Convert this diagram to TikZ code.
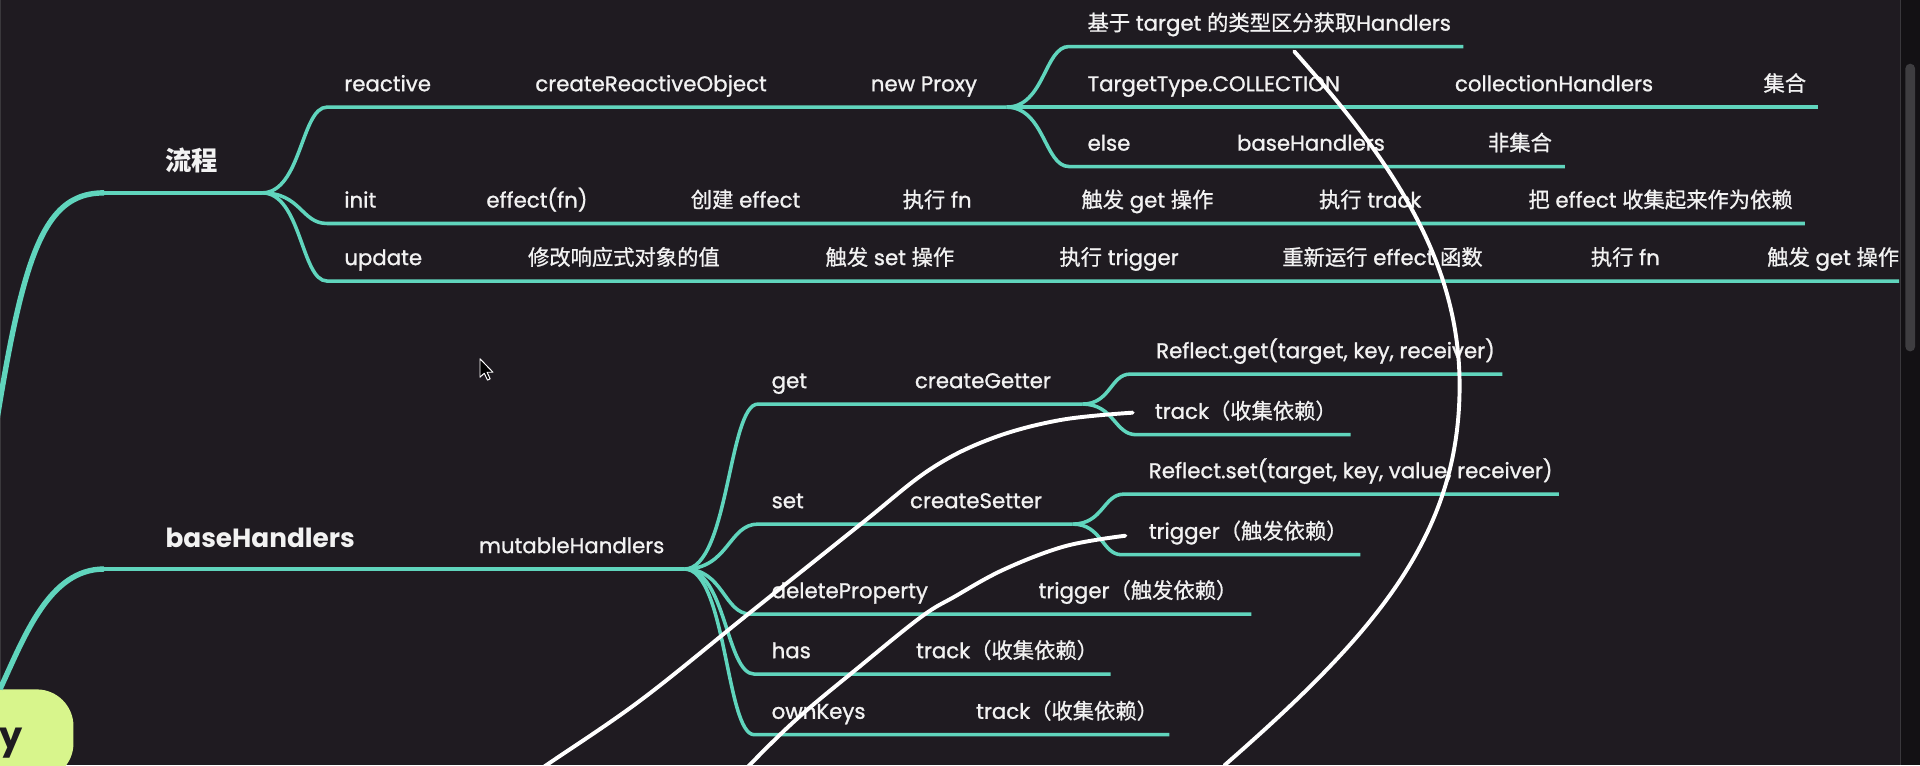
\documentclass[tikz,border=0pt]{standalone}
\usepackage{fontspec}
\setmainfont{Poppins}
\newfontfamily\medfont{Poppins}[FakeBold=1.1]
\newfontfamily\cjkfont{Noto Sans CJK SC}[FakeBold=0.9]
\newfontfamily\cjkbold{Noto Sans CJK SC Bold}
\newcommand\zh[1]{{\cjkfont #1}}
\newcommand\zhb[1]{{\cjkbold #1}}
\usetikzlibrary{calc}
\definecolor{bgc}{HTML}{1F1B21}
\definecolor{tealc}{HTML}{60D5BD}
\definecolor{txtc}{HTML}{F2F2F2}
\definecolor{limec}{HTML}{D8F58C}
\definecolor{sbbg}{HTML}{131114}
\definecolor{sbthumb}{HTML}{3E3D40}
\definecolor{edgec}{HTML}{3A383C}
\newcommand\mmbranch[5]{\draw[br] (#1) .. controls ($(#1)+(#4,0)$) and ($(#2)+(-#5,0)$) .. (#2) -- (#3);}
\begin{document}
\begin{tikzpicture}[x=1pt,y=-1pt,
  br/.style={draw=tealc, line width=2.9pt},
  mainbr/.style={draw=tealc, line width=4.4pt},
  mainh/.style={draw=tealc, line width=3.4pt},
  wh/.style={draw=white, line width=3.2pt, line cap=round},
  lbl/.style={anchor=base west, inner sep=0pt, text=txtc, font=\medfont\fontsize{17.4}{20}\selectfont},
  ttl/.style={anchor=base west, inner sep=0pt, text=txtc, font=\fontsize{21.5}{24}\selectfont\bfseries},
  rootbox/.style={fill=limec, rounded corners=30pt, minimum width=190pt, minimum height=74pt, inner sep=0pt},
  roottxt/.style={anchor=base west, inner sep=0pt, text=bgc, font=\fontsize{30}{30}\selectfont\bfseries},
]
\useasboundingbox (0,0) rectangle (1568,625);
\fill[bgc] (0,0) rectangle (1568,625);
% scrollbar and window edge
\fill[sbbg] (1552,0) rectangle (1568,625);
\draw[edgec, line width=1pt] (1552,0) -- (1552,625);
\fill[sbthumb, rounded corners=4pt] (1556,52) rectangle (1564,287);
\draw[edgec, line width=1pt] (0.5,0) -- (0.5,625);

\begin{scope}
\clip (0,0) rectangle (1551.5,625);

% ---------- root node ----------
\node[rootbox] (root) at (-35,600) {};
\coordinate (r2) at ($(root.north)+(35,0)$);

% ---------- coordinates ----------
\coordinate (m1) at (85,157.5);
\coordinate (B1) at (214,157.5);
\coordinate (m2) at (85,464.7);
\coordinate (B2) at (559,464.7);

\coordinate (rea0) at (267,87.5);  \coordinate (B3) at (822,87.5);
\coordinate (ini0) at (267,182.5); \coordinate (ini1) at (1474,182.5);
\coordinate (upd0) at (267,229.5); \coordinate (upd1) at (1551,229.5);
\coordinate (tgt0) at (873,38);    \coordinate (tgt1) at (1195,38);
\coordinate (col1) at (1485,87.5);
\coordinate (els0) at (873,136);   \coordinate (els1) at (1278,136);

\coordinate (get0) at (619,330);   \coordinate (B4) at (884,330);
\coordinate (set0) at (619,428);   \coordinate (B5) at (876,428);
\coordinate (del0) at (613,501.5); \coordinate (del1) at (1022,501.5);
\coordinate (has0) at (616,550.5); \coordinate (has1) at (907,550.5);
\coordinate (own0) at (616,600);   \coordinate (own1) at (955,600);
\coordinate (rg0) at (923,305.5);  \coordinate (rg1) at (1227,305.5);
\coordinate (tk0) at (928,355);    \coordinate (tk1) at (1103,355);
\coordinate (rs0) at (918,403.5);  \coordinate (rs1) at (1273,403.5);
\coordinate (tr0) at (916,453);    \coordinate (tr1) at (1111,453);

% ---------- main branches ----------
\draw[mainbr] (root.north) .. controls (11,248) and (18,157.5) .. (m1);
\draw[mainh] (m1) -- (B1);
\draw[mainbr] (r2) .. controls (20,520) and (40,464.7) .. (m2);
\draw[mainh] (m2) -- (B2);

% ---------- second level ----------
\mmbranch{B1}{rea0}{B3}{32}{21}
\mmbranch{B1}{ini0}{ini1}{32}{21}
\mmbranch{B1}{upd0}{upd1}{32}{21}
\mmbranch{B3}{tgt0}{tgt1}{31}{20}
\draw[br] (B3) -- (col1);
\mmbranch{B3}{els0}{els1}{31}{20}

\mmbranch{B2}{get0}{B4}{36}{24}
\mmbranch{B2}{set0}{B5}{36}{24}
\mmbranch{B2}{del0}{del1}{32}{22}
\mmbranch{B2}{has0}{has1}{34}{23}
\mmbranch{B2}{own0}{own1}{34}{23}
\mmbranch{B4}{rg0}{rg1}{23}{16}
\mmbranch{B4}{tk0}{tk1}{26}{18}
\mmbranch{B5}{rs0}{rs1}{25}{17}
\mmbranch{B5}{tr0}{tr1}{24}{16}

% ---------- root label ----------
\node[roottxt] (rootlbl) at (-1,611) {y};

% ---------- labels ----------
\node[ttl] (t-flow) at (135,139.5) {\zhb{流程}};
\node[ttl] (t-base) at (135,447) {baseHandlers};

\node[lbl] (l-rea) at (281,74.5) {reactive};
\node[lbl] (l-cro) at (437,74.5) {createReactiveObject};
\node[lbl] (l-np) at (711,74.5) {new Proxy};
\node[lbl] (l-tgt) at (888,25) {\zh{基于} target \zh{的类型区分获取}Handlers};
\node[lbl] (l-tt) at (888,74.5) {TargetType.COLLECTION};
\node[lbl] (l-ch) at (1188,74.5) {collectionHandlers};
\node[lbl] (l-jh) at (1440,74.5) {\zh{集合}};
\node[lbl] (l-els) at (888,123) {else};
\node[lbl] (l-bh) at (1010,123) {baseHandlers};
\node[lbl] (l-fjh) at (1215,123) {\zh{非集合}};

\node[lbl] (l-ini) at (281,169.5) {init};
\node[lbl] (l-eff) at (397,169.5) {effect(fn)};
\node[lbl] (l-cj) at (564,169.5) {\zh{创建} effect};
\node[lbl] (l-zx1) at (737,169.5) {\zh{执行} fn};
\node[lbl] (l-cf1) at (883,169.5) {\zh{触发} get \zh{操作}};
\node[lbl] (l-zt) at (1077,169.5) {\zh{执行} track};
\node[lbl] (l-ba) at (1248,169.5) {\zh{把} effect \zh{收集起来作为依赖}};

\node[lbl] (l-upd) at (281,216.5) {update};
\node[lbl] (l-xg) at (431,216.5) {\zh{修改响应式对象的值}};
\node[lbl] (l-cs) at (674,216.5) {\zh{触发} set \zh{操作}};
\node[lbl] (l-ztr) at (865,216.5) {\zh{执行} trigger};
\node[lbl] (l-cx) at (1047,216.5) {\zh{重新运行} effect \zh{函数}};
\node[lbl] (l-zx2) at (1299,216.5) {\zh{执行} fn};
\node[lbl] (l-cf2) at (1443,216.5) {\zh{触发} get \zh{操作}};

\node[lbl] (l-mh) at (391,451.7) {mutableHandlers};
\node[lbl] (l-get) at (630,317) {get};
\node[lbl] (l-cg) at (747,317) {createGetter};
\node[lbl] (l-rg) at (944,292.5) {Reflect.get(target, key, receiver)};
\node[lbl] (l-tk1) at (943,342) {track\zh{（收集依赖）}};
\node[lbl] (l-set) at (630,415) {set};
\node[lbl] (l-cs2) at (743,415) {createSetter};
\node[lbl] (l-rs) at (938,390.5) {Reflect.set(target, key, value, receiver)};
\node[lbl] (l-tr1) at (938,440) {trigger\zh{（触发依赖）}};
\node[lbl] (l-del) at (630,488.5) {deleteProperty};
\node[lbl] (l-tr2) at (848,488.5) {trigger\zh{（触发依赖）}};
\node[lbl] (l-has) at (630,537.5) {has};
\node[lbl] (l-tk2) at (748,537.5) {track\zh{（收集依赖）}};
\node[lbl] (l-own) at (630,587) {ownKeys};
\node[lbl] (l-tk3) at (797,587) {track\zh{（收集依赖）}};

% ---------- white hand-drawn strokes ----------
\coordinate (wa0) at (1057,42);
\coordinate (wam) at (1192,315);
\coordinate (wa1) at (1000,625);
\draw[wh] (wa0) .. controls (1140,135) and (1192,215) .. (wam)
               .. controls (1192,440) and (1120,520) .. (wa1);
\coordinate (wb0) at (925,337);
\draw[wh] plot[smooth, tension=0.6] coordinates {(925,337) (866,343) (810,358) (760,383) (703,428) (611,501.5) (523,572) (446,625) (425,640)};
\coordinate (wc0) at (919,437.5);
\draw[wh] plot[smooth, tension=0.6] coordinates {(919,437.5) (870,446) (820,465) (780,487) (752,504) (700,546) (652,586) (612,625) (600,640)};

% ---------- mouse cursor ----------
\coordinate (cur) at (392,293);
\filldraw[fill=black, draw=white, line width=0.8pt, line join=round] (cur) -- ++(0,15) -- ++(3.5,-3.2) -- ++(2.6,5.6) -- ++(2.2,-1) -- ++(-2.5,-5.4) -- ++(4.8,0) -- cycle;
\end{scope}
\end{tikzpicture}
\end{document}
